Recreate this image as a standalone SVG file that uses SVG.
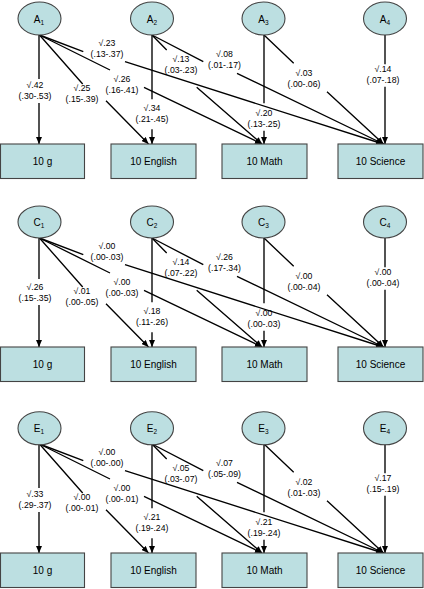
<svg xmlns="http://www.w3.org/2000/svg" width="424" height="589" viewBox="0 0 424 589">
<style>
.nd{fill:#bcdfe1;stroke:#444;stroke-width:1.1}
.nt{font-family:"Liberation Sans",Arial,sans-serif;font-size:10px;fill:#000;text-anchor:middle}
.et{font-family:"Liberation Sans",Arial,sans-serif;font-size:10px;fill:#000;text-anchor:middle}
.sb{font-size:6.5px}
.lb{font-family:"Liberation Sans",Arial,sans-serif;font-size:8.7px;fill:#000;text-anchor:middle}
.cn{fill:none;stroke:#000;stroke-width:1.35;marker-end:url(#ah)}
</style>
<defs>
<marker id="ah" viewBox="0 0 7 6" refX="7" refY="3" markerWidth="7" markerHeight="6" orient="auto" markerUnits="userSpaceOnUse"><path d="M0,0 L7,3 L0,6 z" fill="#000"/></marker>
</defs>
<rect width="424" height="589" fill="#fff"/>

<!-- Panel A -->
<g id="panelA">
<g id="connectorsA">
<path class="cn" d="M39,35 L39,79 M39,103 L39,144"/>
<path class="cn" d="M39.5,35 L82.7,84 M106,100.7 L148.5,144"/>
<path class="cn" d="M39.5,35 L110,70 M144,87.3 L262,144"/>
<path class="cn" d="M39.5,35 L83.3,51.7 M125,61.7 L383,144"/>
<path class="cn" d="M152,35 L152,99.3 M152,129.3 L152,144"/>
<path class="cn" d="M152,35 L166.7,50 M196.7,87.3 L262,144"/>
<path class="cn" d="M152,35 L203.3,61.7 M237,73.3 L383.5,144"/>
<path class="cn" d="M264,35 L264,103.3 M264,130.7 L264,144"/>
<path class="cn" d="M264,35 L293.7,63.3 M327,91.7 L383.5,144"/>
<path class="cn" d="M385,35 L385,64.3 M385,86.7 L385,144"/>
</g>
<g id="labelsA">
<text class="lb" x="35" y="88"><tspan x="35">√.42</tspan><tspan x="35" dy="10.7">(.30-.53)</tspan></text>
<text class="lb" x="82" y="91"><tspan x="82">√.25</tspan><tspan x="82" dy="10.7">(.15-.39)</tspan></text>
<text class="lb" x="122" y="82"><tspan x="122">√.26</tspan><tspan x="122" dy="10.7">(.16-.41)</tspan></text>
<text class="lb" x="107" y="46"><tspan x="107">√.23</tspan><tspan x="107" dy="10.7">(.13-.37)</tspan></text>
<text class="lb" x="152" y="111"><tspan x="152">√.34</tspan><tspan x="152" dy="10.7">(.21-.45)</tspan></text>
<text class="lb" x="181" y="62"><tspan x="181">√.13</tspan><tspan x="181" dy="10.7">(.03-.23)</tspan></text>
<text class="lb" x="224.5" y="57"><tspan x="224.5">√.08</tspan><tspan x="224.5" dy="10.7">(.01-.17)</tspan></text>
<text class="lb" x="264" y="116"><tspan x="264">√.20</tspan><tspan x="264" dy="10.7">(.13-.25)</tspan></text>
<text class="lb" x="304" y="76"><tspan x="304">√.03</tspan><tspan x="304" dy="10.7">(.00-.06)</tspan></text>
<text class="lb" x="383" y="72"><tspan x="383">√.14</tspan><tspan x="383" dy="10.7">(.07-.18)</tspan></text>
</g>
<g id="A1"><ellipse class="nd" cx="39.5" cy="18.5" rx="21.5" ry="16.5"/><text class="et" x="39" y="22.5">A<tspan class="sb" dy="2">1</tspan></text></g>
<g id="A2"><ellipse class="nd" cx="152" cy="18.5" rx="21.5" ry="16.5"/><text class="et" x="152" y="22.5">A<tspan class="sb" dy="2">2</tspan></text></g>
<g id="A3"><ellipse class="nd" cx="263.5" cy="18.5" rx="21.5" ry="16.5"/><text class="et" x="263.5" y="22.5">A<tspan class="sb" dy="2">3</tspan></text></g>
<g id="A4"><ellipse class="nd" cx="385" cy="18.5" rx="21.5" ry="16.5"/><text class="et" x="385" y="22.5">A<tspan class="sb" dy="2">4</tspan></text></g>
<g id="A_g"><rect class="nd" x="0.5" y="144" width="84" height="34.5"/><text class="nt" x="42.5" y="165">10 g</text></g>
<g id="A_english"><rect class="nd" x="111" y="144" width="85" height="34.5"/><text class="nt" x="153.5" y="165">10 English</text></g>
<g id="A_math"><rect class="nd" x="222" y="144" width="85" height="34.5"/><text class="nt" x="264.5" y="165">10 Math</text></g>
<g id="A_science"><rect class="nd" x="338" y="144" width="85" height="34.5"/><text class="nt" x="380.5" y="165">10 Science</text></g>
</g>

<!-- Panel C -->
<g id="panelC" transform="translate(0,203)">
<g id="connectorsC">
<path class="cn" d="M39,35 L39,76 M39,102 L39,144"/>
<path class="cn" d="M39.5,35 L82.7,84 M106,100.7 L148.5,144"/>
<path class="cn" d="M39.5,35 L110,70 M144,87.3 L262,144"/>
<path class="cn" d="M39.5,35 L83.3,51.7 M125,61.7 L383,144"/>
<path class="cn" d="M152,35 L152,99.3 M152,129.3 L152,144"/>
<path class="cn" d="M152,35 L166.7,50 M196.7,87.3 L262,144"/>
<path class="cn" d="M152,35 L203.3,61.7 M237,73.3 L383.5,144"/>
<path class="cn" d="M264,35 L264,100.3 M264,127.7 L264,144"/>
<path class="cn" d="M264,35 L293.7,63.3 M327,91.7 L383.5,144"/>
<path class="cn" d="M385,35 L385,64.3 M385,86.7 L385,144"/>
</g>
<g id="labelsC">
<text class="lb" x="35" y="87"><tspan x="35">√.26</tspan><tspan x="35" dy="10.7">(.15-.35)</tspan></text>
<text class="lb" x="82" y="91"><tspan x="82">√.01</tspan><tspan x="82" dy="10.7">(.00-.05)</tspan></text>
<text class="lb" x="122" y="82"><tspan x="122">√.00</tspan><tspan x="122" dy="10.7">(.00-.03)</tspan></text>
<text class="lb" x="107" y="46"><tspan x="107">√.00</tspan><tspan x="107" dy="10.7">(.00-.03)</tspan></text>
<text class="lb" x="152" y="111"><tspan x="152">√.18</tspan><tspan x="152" dy="10.7">(.11-.26)</tspan></text>
<text class="lb" x="181" y="62"><tspan x="181">√.14</tspan><tspan x="181" dy="10.7">(.07-.22)</tspan></text>
<text class="lb" x="224.5" y="57"><tspan x="224.5">√.26</tspan><tspan x="224.5" dy="10.7">(.17-.34)</tspan></text>
<text class="lb" x="264" y="113"><tspan x="264">√.00</tspan><tspan x="264" dy="10.7">(.00-.03)</tspan></text>
<text class="lb" x="304" y="76"><tspan x="304">√.00</tspan><tspan x="304" dy="10.7">(.00-.04)</tspan></text>
<text class="lb" x="383" y="72"><tspan x="383">√.00</tspan><tspan x="383" dy="10.7">(.00-.04)</tspan></text>
</g>
<g id="C1"><ellipse class="nd" cx="39.5" cy="19" rx="21.5" ry="16"/><text class="et" x="39" y="23">C<tspan class="sb" dy="2">1</tspan></text></g>
<g id="C2"><ellipse class="nd" cx="152" cy="19" rx="21.5" ry="16"/><text class="et" x="152" y="23">C<tspan class="sb" dy="2">2</tspan></text></g>
<g id="C3"><ellipse class="nd" cx="263.5" cy="19" rx="21.5" ry="16"/><text class="et" x="263.5" y="23">C<tspan class="sb" dy="2">3</tspan></text></g>
<g id="C4"><ellipse class="nd" cx="385" cy="19" rx="21.5" ry="16"/><text class="et" x="385" y="23">C<tspan class="sb" dy="2">4</tspan></text></g>
<g id="C_g"><rect class="nd" x="0.5" y="144" width="84" height="34.5"/><text class="nt" x="42.5" y="165">10 g</text></g>
<g id="C_english"><rect class="nd" x="111" y="144" width="85" height="34.5"/><text class="nt" x="153.5" y="165">10 English</text></g>
<g id="C_math"><rect class="nd" x="222" y="144" width="85" height="34.5"/><text class="nt" x="264.5" y="165">10 Math</text></g>
<g id="C_science"><rect class="nd" x="338" y="144" width="85" height="34.5"/><text class="nt" x="380.5" y="165">10 Science</text></g>
</g>

<!-- Panel E -->
<g id="panelE" transform="translate(0,409)">
<g id="connectorsE">
<path class="cn" d="M39,35 L39,79 M39,103 L39,144"/>
<path class="cn" d="M39.5,35 L82.7,84 M106,100.7 L148.5,144"/>
<path class="cn" d="M39.5,35 L110,70 M144,87.3 L262,144"/>
<path class="cn" d="M39.5,35 L83.3,51.7 M125,61.7 L383,144"/>
<path class="cn" d="M152,35 L152,99.3 M152,129.3 L152,144"/>
<path class="cn" d="M152,35 L166.7,50 M196.7,87.3 L262,144"/>
<path class="cn" d="M152,35 L203.3,61.7 M237,73.3 L383.5,144"/>
<path class="cn" d="M264,35 L264,103.3 M264,130.7 L264,144"/>
<path class="cn" d="M264,35 L293.7,63.3 M327,91.7 L383.5,144"/>
<path class="cn" d="M385,35 L385,64.3 M385,86.7 L385,144"/>
</g>
<g id="labelsE">
<text class="lb" x="35" y="88"><tspan x="35">√.33</tspan><tspan x="35" dy="10.7">(.29-.37)</tspan></text>
<text class="lb" x="82" y="91"><tspan x="82">√.00</tspan><tspan x="82" dy="10.7">(.00-.01)</tspan></text>
<text class="lb" x="122" y="82"><tspan x="122">√.00</tspan><tspan x="122" dy="10.7">(.00-.01)</tspan></text>
<text class="lb" x="107" y="46"><tspan x="107">√.00</tspan><tspan x="107" dy="10.7">(.00-.00)</tspan></text>
<text class="lb" x="152" y="111"><tspan x="152">√.21</tspan><tspan x="152" dy="10.7">(.19-.24)</tspan></text>
<text class="lb" x="181" y="62"><tspan x="181">√.05</tspan><tspan x="181" dy="10.7">(.03-.07)</tspan></text>
<text class="lb" x="224.5" y="57"><tspan x="224.5">√.07</tspan><tspan x="224.5" dy="10.7">(.05-.09)</tspan></text>
<text class="lb" x="264" y="116"><tspan x="264">√.21</tspan><tspan x="264" dy="10.7">(.19-.24)</tspan></text>
<text class="lb" x="304" y="76"><tspan x="304">√.02</tspan><tspan x="304" dy="10.7">(.01-.03)</tspan></text>
<text class="lb" x="383" y="72"><tspan x="383">√.17</tspan><tspan x="383" dy="10.7">(.15-.19)</tspan></text>
</g>
<g id="E1"><ellipse class="nd" cx="39.5" cy="19.3" rx="21.5" ry="16.5"/><text class="et" x="39" y="23.3">E<tspan class="sb" dy="2">1</tspan></text></g>
<g id="E2"><ellipse class="nd" cx="152" cy="19.3" rx="21.5" ry="16.5"/><text class="et" x="152" y="23.3">E<tspan class="sb" dy="2">2</tspan></text></g>
<g id="E3"><ellipse class="nd" cx="263.5" cy="19.3" rx="21.5" ry="16.5"/><text class="et" x="263.5" y="23.3">E<tspan class="sb" dy="2">3</tspan></text></g>
<g id="E4"><ellipse class="nd" cx="385" cy="19.3" rx="21.5" ry="16.5"/><text class="et" x="385" y="23.3">E<tspan class="sb" dy="2">4</tspan></text></g>
<g id="E_g"><rect class="nd" x="0.5" y="144" width="84" height="34.5"/><text class="nt" x="42.5" y="165">10 g</text></g>
<g id="E_english"><rect class="nd" x="111" y="144" width="85" height="34.5"/><text class="nt" x="153.5" y="165">10 English</text></g>
<g id="E_math"><rect class="nd" x="222" y="144" width="85" height="34.5"/><text class="nt" x="264.5" y="165">10 Math</text></g>
<g id="E_science"><rect class="nd" x="338" y="144" width="85" height="34.5"/><text class="nt" x="380.5" y="165">10 Science</text></g>
</g>
</svg>
